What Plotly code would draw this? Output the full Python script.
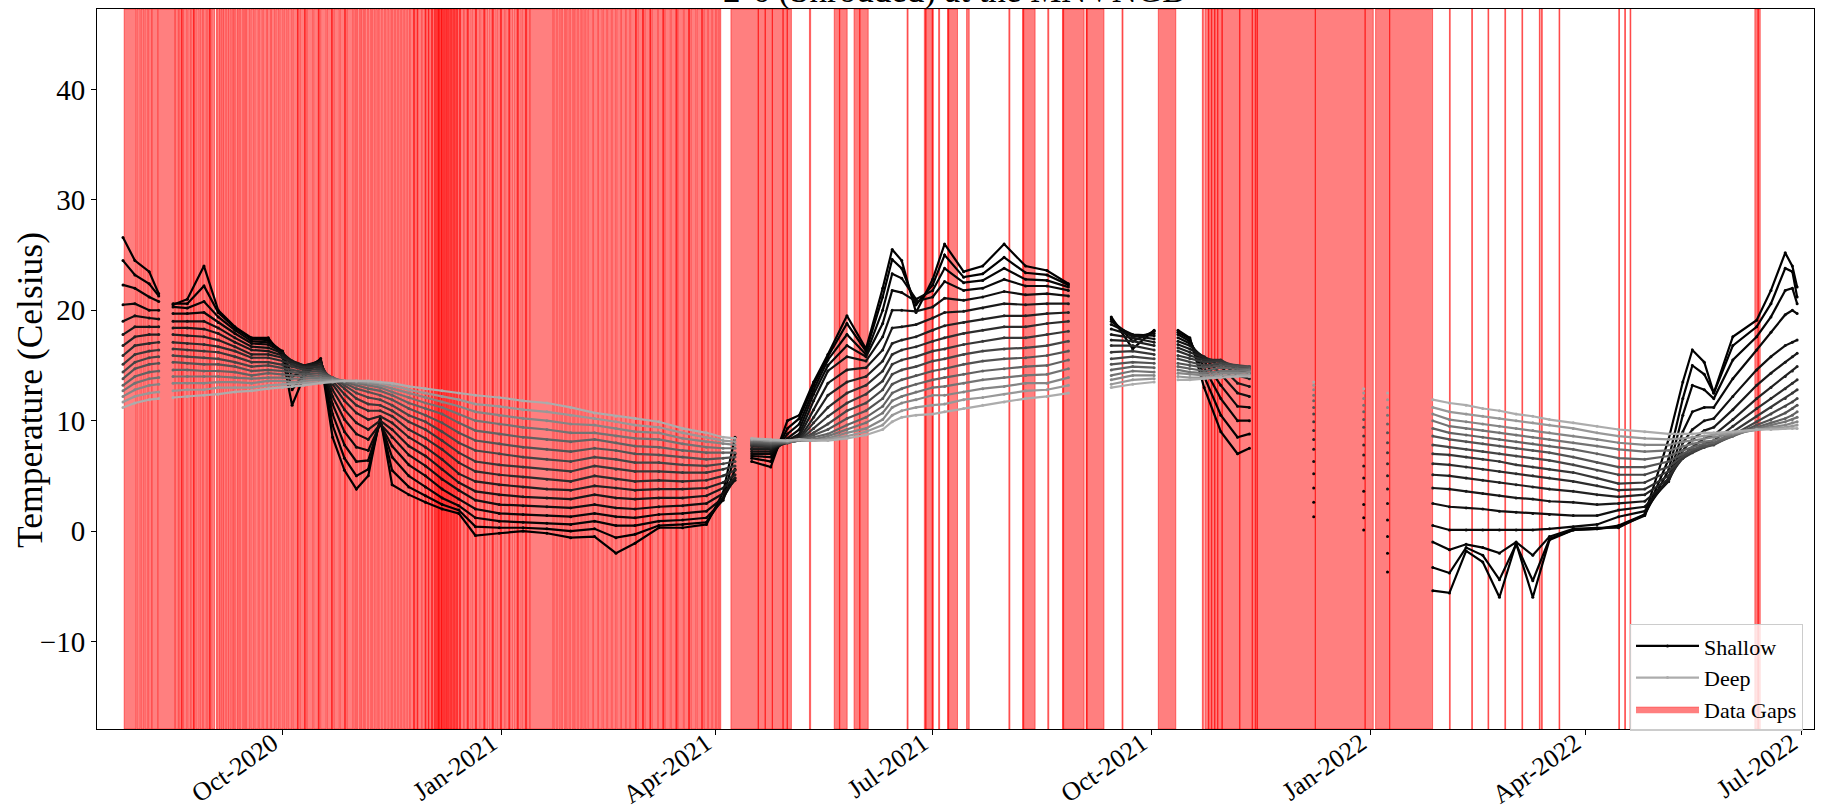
import plotly.graph_objects as go

# ---------------------------------------------------------------------------
# Thermistor-string soil temperatures (deg C), one list per sensor depth,
# sampled on the shared dates below (shallowest = depth_01, deepest = depth_16)
# ---------------------------------------------------------------------------
sample_dates = [
    "2020-07-26", "2020-07-31", "2020-08-06", "2020-08-10", "2020-08-16", "2020-08-22",
    "2020-08-29", "2020-09-04", "2020-09-11", "2020-09-18", "2020-09-25", "2020-10-01",
    "2020-10-05", "2020-10-10", "2020-10-17", "2020-10-22", "2020-10-27", "2020-11-01",
    "2020-11-06", "2020-11-11", "2020-11-16", "2020-11-23", "2020-11-30", "2020-12-07",
    "2020-12-14", "2020-12-21", "2020-12-31",
    "2021-01-10", "2021-01-20", "2021-01-30", "2021-02-09", "2021-02-18", "2021-02-26",
    "2021-03-08", "2021-03-18", "2021-03-28", "2021-04-04", "2021-04-09", "2021-04-16",
    "2021-04-24", "2021-05-01", "2021-05-06", "2021-05-12", "2021-05-18", "2021-05-26",
    "2021-06-03", "2021-06-10", "2021-06-14", "2021-06-18", "2021-06-24", "2021-07-01",
    "2021-07-06", "2021-07-14", "2021-07-22", "2021-07-31", "2021-08-09", "2021-08-18",
    "2021-08-27", "2021-09-14", "2021-09-23", "2021-10-02", "2021-10-12", "2021-10-17",
    "2021-10-23", "2021-10-30", "2021-11-06", "2021-11-11", "2021-12-08", "2021-12-29",
    "2022-01-08", "2022-01-27", "2022-02-03", "2022-02-10", "2022-02-17", "2022-02-24",
    "2022-03-03", "2022-03-10", "2022-03-17", "2022-03-27", "2022-04-06", "2022-04-15",
    "2022-04-26", "2022-05-06", "2022-05-12", "2022-05-16", "2022-05-21", "2022-05-25",
    "2022-06-02", "2022-06-12", "2022-06-18", "2022-06-24", "2022-06-27", "2022-06-29",
]

# samples that start a new recording segment (line is broken before them)
segment_starts = [
    "2020-08-16", "2021-04-16", "2021-09-14", "2021-10-12",
    "2021-12-08", "2021-12-29", "2022-01-08", "2022-01-27",
]

depth_01 = [26.6, 24.5, 23.5, 21.5, 20.5, 21.0, 24.0, 20.0, 18.5, 17.5,
            17.5, 15.8, 11.4, 14.0, 15.5, 8.5, 5.5, 3.8, 5.0, 10.3,
            4.2, 3.3, 2.6, 2.0, 1.6, -0.4, -0.2, 0.0, -0.2, -0.6,
            -0.5, -2.0, -1.1, 0.3, 0.3, 0.6, 3.5, 8.5, 6.3, 5.8,
            10.0, 10.5, 13.5, 16.0, 19.5, 16.5, 22.0, 25.5, 24.5, 19.8,
            22.8, 26.0, 23.5, 24.0, 26.0, 24.0, 23.6, 22.4, 19.4, 16.5,
            18.2, 18.2, 17.5, 13.0, 9.0, 7.0, 7.5, 1.3, 0.1, -3.7,
            -5.4, -5.6, -1.8, -2.8, -6.0, -1.1, -6.0, -0.8, 0.1, 0.2,
            0.5, 1.5, 8.3, 13.5, 16.4, 15.3, 12.5, 17.6, 19.1, 21.8,
            25.2, 24.0, 22.1]
depth_02 = [24.5, 23.2, 22.4, 21.3, 20.6, 20.6, 22.2, 19.8, 18.4, 17.4,
            17.3, 16.2, 12.8, 14.2, 15.6, 9.6, 6.6, 5.0, 5.6, 10.1,
            5.5, 4.0, 3.2, 2.4, 1.9, 0.4, 0.3, 0.3, 0.2, 0.0,
            0.2, -0.6, -0.3, 0.5, 0.6, 0.8, 3.0, 7.0, 6.6, 6.3,
            9.3, 10.2, 13.2, 15.8, 18.8, 16.3, 21.2, 24.6, 23.8, 20.5,
            22.3, 25.0, 23.0, 23.3, 24.8, 23.4, 23.2, 22.3, 19.2, 17.2,
            18.1, 18.0, 17.4, 14.0, 10.5, 8.5, 8.8, 2.6, 1.2, -2.0,
            -3.3, -3.8, -1.5, -2.2, -4.4, -1.2, -4.5, -0.7, 0.1, 0.2,
            0.4, 1.4, 6.5, 12.0, 15.0, 14.2, 12.5, 16.8, 18.5, 20.6,
            23.8, 23.5, 21.2]
depth_03 = [22.3, 22.0, 21.2, 20.8, 20.3, 20.2, 20.8, 19.4, 18.2, 17.2,
            17.1, 16.3, 14.0, 14.5, 15.6, 10.6, 7.8, 6.3, 6.4, 9.9,
            6.7, 5.0, 4.0, 3.0, 2.3, 1.2, 0.9, 0.8, 0.7, 0.6,
            0.9, 0.5, 0.5, 0.9, 1.0, 1.2, 2.8, 5.6, 6.8, 6.7,
            8.8, 9.7, 12.8, 15.5, 17.8, 16.0, 20.0, 23.3, 22.9, 21.0,
            21.8, 23.8, 22.5, 22.7, 23.8, 22.8, 22.7, 22.1, 19.0, 17.6,
            17.9, 17.8, 17.2, 14.8, 12.0, 10.0, 10.0, 3.9, 2.4, -0.5,
            -1.0, -1.7, -1.2, -1.5, -2.0, -1.0, -2.2, -0.5, 0.2, 0.3,
            0.3, 1.5, 5.5, 10.5, 13.2, 12.8, 12.0, 15.5, 17.6, 19.4,
            21.8, 22.0, 20.6]
depth_04 = [20.5, 20.6, 20.0, 20.0, 19.7, 19.7, 19.8, 18.9, 17.9, 17.0,
            16.9, 16.2, 15.0, 14.8, 15.5, 11.5, 9.0, 7.6, 7.3, 9.7,
            7.7, 6.0, 5.0, 3.8, 2.9, 2.0, 1.6, 1.5, 1.4, 1.3,
            1.6, 1.3, 1.2, 1.5, 1.6, 1.8, 3.0, 4.8, 7.0, 7.0,
            8.4, 9.2, 12.4, 15.0, 16.8, 15.8, 18.8, 21.8, 21.6, 20.8,
            21.2, 22.6, 21.8, 22.0, 22.8, 22.2, 22.2, 21.8, 18.7, 17.8,
            17.7, 17.5, 17.0, 15.4, 13.2, 11.3, 11.2, 5.2, 3.6, 1.0,
            0.5, 0.1, 0.1, 0.1, 0.1, 0.1, 0.1, 0.2, 0.4, 0.6,
            1.3, 1.8, 4.8, 9.0, 10.8, 11.2, 11.2, 13.8, 16.4, 18.0,
            19.6, 20.0, 19.7]
depth_05 = [19.0, 19.5, 19.3, 19.2, 19.0, 19.0, 19.0, 18.4, 17.5, 16.7,
            16.6, 16.1, 15.4, 15.0, 15.4, 12.2, 10.1, 8.8, 8.3, 9.7,
            8.5, 6.9, 5.9, 4.7, 3.7, 2.8, 2.4, 2.3, 2.2, 2.1,
            2.4, 2.1, 2.0, 2.2, 2.3, 2.5, 3.4, 4.6, 7.2, 7.2,
            8.2, 8.8, 11.8, 14.5, 15.8, 15.4, 17.6, 20.0, 20.0, 19.9,
            20.3, 21.1, 20.9, 21.2, 21.7, 21.4, 21.5, 21.3, 18.3, 17.7,
            17.4, 17.2, 16.8, 15.7, 14.2, 12.5, 12.2, 6.3, 4.8, 2.5,
            2.5, 2.2, 2.1, 2.0, 1.8, 1.7, 1.6, 1.5, 1.4, 1.4,
            1.9, 2.2, 4.5, 8.0, 9.2, 10.0, 10.2, 12.2, 14.6, 15.8,
            16.8, 17.1, 17.3]
depth_06 = [17.8, 18.5, 18.5, 18.5, 18.4, 18.4, 18.3, 17.9, 17.1, 16.4,
            16.3, 15.9, 15.4, 15.0, 15.3, 12.8, 11.0, 9.8, 9.2, 10.0,
            9.2, 7.7, 6.8, 5.6, 4.4, 3.6, 3.3, 3.1, 3.0, 2.9,
            3.3, 3.0, 2.9, 3.0, 3.0, 3.2, 3.9, 4.8, 7.4, 7.4,
            8.1, 8.6, 11.0, 13.4, 14.6, 14.8, 16.4, 18.4, 18.5, 18.7,
            19.3, 19.8, 19.9, 20.2, 20.6, 20.5, 20.6, 20.6, 17.8, 17.5,
            17.1, 16.9, 16.5, 15.8, 14.9, 13.4, 13.1, 7.4, 5.9, 3.8,
            3.9, 3.8, 3.6, 3.4, 3.2, 3.0, 2.9, 2.7, 2.6, 2.4,
            2.5, 2.7, 4.5, 7.3, 8.3, 9.1, 9.4, 11.0, 13.2, 14.3,
            15.3, 15.8, 16.1]
depth_07 = [16.8, 17.6, 17.8, 17.8, 17.8, 17.7, 17.6, 17.3, 16.7, 16.0,
            16.0, 15.7, 15.3, 14.9, 15.1, 13.3, 11.8, 10.7, 10.1, 10.4,
            9.8, 8.5, 7.6, 6.5, 5.2, 4.5, 4.2, 4.0, 3.8, 3.7,
            4.1, 3.9, 3.7, 3.8, 3.8, 3.9, 4.4, 5.1, 7.5, 7.5,
            8.0, 8.4, 10.3, 12.3, 13.5, 14.0, 15.4, 17.0, 17.3, 17.6,
            18.2, 18.6, 18.9, 19.2, 19.5, 19.5, 19.7, 19.8, 17.3, 17.2,
            16.8, 16.6, 16.2, 15.7, 15.3, 14.1, 13.8, 8.3, 6.9, 5.0,
            5.1, 5.0, 4.8, 4.6, 4.4, 4.2, 4.0, 3.8, 3.6, 3.3,
            3.1, 3.3, 4.7, 6.8, 7.6, 8.4, 8.7, 10.1, 12.0, 13.0,
            14.0, 14.5, 14.9]
depth_08 = [15.9, 16.8, 17.0, 17.1, 17.1, 17.0, 16.9, 16.7, 16.3, 15.7,
            15.7, 15.4, 15.1, 14.8, 14.9, 13.6, 12.4, 11.4, 10.9, 10.9,
            10.4, 9.2, 8.4, 7.4, 6.2, 5.4, 5.1, 4.9, 4.7, 4.5,
            5.0, 4.7, 4.5, 4.6, 4.5, 4.6, 5.0, 5.5, 7.7, 7.6,
            8.0, 8.3, 9.8, 11.2, 12.5, 13.2, 14.5, 16.0, 16.4, 16.7,
            17.2, 17.5, 17.9, 18.2, 18.5, 18.5, 18.8, 19.0, 16.8, 16.8,
            16.4, 16.3, 15.9, 15.5, 15.5, 14.6, 14.3, 9.1, 7.8, 6.1,
            6.1, 6.0, 5.8, 5.6, 5.4, 5.2, 5.0, 4.8, 4.5, 4.1,
            3.7, 3.8, 5.0, 6.6, 7.2, 7.9, 8.2, 9.5, 11.1, 12.0,
            12.9, 13.4, 13.7]
depth_09 = [15.1, 16.0, 16.3, 16.4, 16.5, 16.4, 16.3, 16.2, 15.8, 15.3,
            15.3, 15.1, 14.9, 14.6, 14.7, 13.8, 12.9, 12.0, 11.5, 11.4,
            10.9, 9.9, 9.2, 8.2, 7.1, 6.3, 6.0, 5.8, 5.6, 5.4,
            5.9, 5.6, 5.4, 5.4, 5.3, 5.3, 5.6, 5.9, 7.8, 7.7,
            8.0, 8.2, 9.3, 10.4, 11.6, 12.4, 13.6, 15.1, 15.5, 15.8,
            16.3, 16.5, 16.9, 17.2, 17.5, 17.5, 17.8, 18.1, 16.2, 16.3,
            16.0, 15.9, 15.6, 15.3, 15.4, 14.9, 14.7, 9.9, 8.6, 7.1,
            7.0, 6.9, 6.7, 6.5, 6.3, 6.0, 5.8, 5.6, 5.3, 4.8,
            4.3, 4.4, 5.4, 6.6, 7.1, 7.6, 7.9, 9.0, 10.4, 11.2,
            12.0, 12.5, 12.8]
depth_10 = [14.4, 15.3, 15.7, 15.8, 15.9, 15.8, 15.7, 15.6, 15.3, 14.9,
            15.0, 14.8, 14.6, 14.4, 14.5, 13.9, 13.2, 12.5, 12.1, 11.9,
            11.4, 10.5, 9.9, 9.0, 8.0, 7.3, 7.0, 6.7, 6.5, 6.3,
            6.7, 6.5, 6.2, 6.2, 6.0, 5.9, 6.1, 6.3, 7.9, 7.8,
            8.0, 8.2, 8.9, 9.7, 10.9, 11.6, 12.8, 14.2, 14.6, 14.9,
            15.4, 15.6, 16.0, 16.3, 16.5, 16.6, 16.8, 17.2, 15.6, 15.8,
            15.6, 15.6, 15.3, 15.0, 15.2, 15.0, 14.9, 10.6, 9.4, 8.0,
            7.8, 7.6, 7.4, 7.2, 7.0, 6.8, 6.6, 6.4, 6.0, 5.5,
            5.1, 5.1, 5.8, 6.8, 7.2, 7.6, 7.8, 8.7, 9.9, 10.6,
            11.3, 11.7, 12.0]
depth_11 = [13.8, 14.7, 15.1, 15.2, 15.3, 15.2, 15.1, 15.1, 14.9, 14.5,
            14.6, 14.5, 14.4, 14.2, 14.3, 13.9, 13.4, 12.9, 12.6, 12.3,
            11.9, 11.1, 10.5, 9.8, 8.9, 8.2, 7.9, 7.6, 7.4, 7.2,
            7.5, 7.3, 7.0, 6.9, 6.7, 6.5, 6.6, 6.7, 8.0, 7.9,
            8.0, 8.2, 8.7, 9.2, 10.2, 10.9, 12.0, 13.3, 13.7, 14.1,
            14.5, 14.7, 15.1, 15.4, 15.6, 15.7, 15.9, 16.3, 15.1, 15.3,
            15.2, 15.2, 15.0, 14.8, 15.0, 14.9, 14.9, 11.2, 10.1, 8.9,
            8.6, 8.3, 8.1, 7.9, 7.7, 7.5, 7.3, 7.1, 6.7, 6.2,
            5.8, 5.8, 6.3, 7.0, 7.4, 7.7, 7.9, 8.6, 9.6, 10.1,
            10.7, 11.1, 11.4]
depth_12 = [13.2, 14.0, 14.4, 14.5, 14.6, 14.6, 14.5, 14.5, 14.4, 14.1,
            14.3, 14.2, 14.1, 14.0, 14.1, 13.9, 13.5, 13.2, 12.9, 12.7,
            12.3, 11.6, 11.1, 10.6, 9.8, 9.1, 8.8, 8.5, 8.3, 8.1,
            8.3, 8.0, 7.7, 7.6, 7.3, 7.1, 7.1, 7.1, 8.1, 8.0,
            8.0, 8.2, 8.5, 8.8, 9.6, 10.3, 11.3, 12.5, 12.9, 13.3,
            13.7, 13.9, 14.2, 14.5, 14.7, 14.9, 15.0, 15.5, 14.6, 14.9,
            14.8, 14.9, 14.7, 14.5, 14.8, 14.7, 14.7, 11.8, 10.8, 9.7,
            9.3, 8.9, 8.7, 8.5, 8.3, 8.1, 7.9, 7.7, 7.4, 7.0,
            6.6, 6.5, 6.8, 7.3, 7.6, 7.9, 8.0, 8.6, 9.4, 9.8,
            10.2, 10.5, 10.8]
depth_13 = [12.7, 13.4, 13.8, 13.9, 14.0, 14.0, 14.0, 14.0, 13.9, 13.8,
            13.9, 13.9, 13.8, 13.8, 13.9, 13.8, 13.6, 13.4, 13.2, 13.0,
            12.6, 12.1, 11.6, 11.2, 10.6, 10.0, 9.7, 9.4, 9.2, 8.9,
            8.9, 8.6, 8.4, 8.3, 7.9, 7.6, 7.5, 7.5, 8.2, 8.1,
            8.1, 8.2, 8.3, 8.6, 9.2, 9.8, 10.7, 11.8, 12.2, 12.6,
            13.0, 13.1, 13.4, 13.7, 13.9, 14.1, 14.2, 14.7, 14.1, 14.5,
            14.4, 14.6, 14.4, 14.3, 14.5, 14.5, 14.6, 12.3, 11.4, 10.5,
            10.0, 9.5, 9.3, 9.1, 8.9, 8.7, 8.5, 8.3, 8.0, 7.7,
            7.4, 7.2, 7.3, 7.7, 7.9, 8.1, 8.2, 8.7, 9.3, 9.6,
            9.9, 10.1, 10.3]
depth_14 = [12.2, 12.8, 13.2, 13.3, 13.4, 13.4, 13.4, 13.5, 13.5, 13.4,
            13.6, 13.6, 13.5, 13.6, 13.7, 13.7, 13.6, 13.5, 13.4, 13.2,
            12.9, 12.5, 12.1, 11.7, 11.3, 10.8, 10.5, 10.2, 10.0, 9.7,
            9.6, 9.3, 9.0, 8.9, 8.4, 8.1, 7.9, 7.8, 8.3, 8.2,
            8.1, 8.2, 8.2, 8.4, 8.9, 9.3, 10.1, 11.2, 11.6, 11.9,
            12.3, 12.3, 12.6, 12.9, 13.1, 13.4, 13.4, 13.9, 13.7, 14.1,
            14.1, 14.3, 14.2, 14.1, 14.3, 14.3, 14.4, 12.8, 12.0, 11.2,
            10.6, 10.1, 9.9, 9.7, 9.5, 9.3, 9.1, 8.9, 8.6, 8.3,
            8.0, 7.8, 7.8, 8.1, 8.2, 8.4, 8.5, 8.8, 9.2, 9.4,
            9.6, 9.8, 9.9]
depth_15 = [11.7, 12.2, 12.5, 12.6, 12.7, 12.8, 12.8, 13.0, 13.0, 13.0,
            13.2, 13.3, 13.3, 13.4, 13.5, 13.6, 13.6, 13.6, 13.5, 13.4,
            13.2, 12.8, 12.5, 12.2, 11.9, 11.5, 11.3, 11.0, 10.8, 10.5,
            10.2, 9.9, 9.6, 9.4, 8.9, 8.5, 8.2, 8.1, 8.3, 8.2,
            8.2, 8.3, 8.2, 8.3, 8.6, 9.0, 9.6, 10.5, 10.9, 11.2,
            11.4, 11.5, 11.9, 12.1, 12.4, 12.7, 12.8, 13.2, 13.3, 13.7,
            13.8, 14.0, 13.9, 13.9, 14.1, 14.1, 14.2, 13.2, 12.5, 11.9,
            11.2, 10.8, 10.6, 10.4, 10.2, 10.0, 9.8, 9.6, 9.3, 8.9,
            8.6, 8.4, 8.3, 8.4, 8.5, 8.6, 8.7, 8.9, 9.2, 9.3,
            9.4, 9.5, 9.6]
depth_16 = [11.2, 11.6, 11.9, 12.0, 12.1, 12.2, 12.3, 12.4, 12.6, 12.7,
            12.9, 13.0, 13.1, 13.2, 13.4, 13.5, 13.6, 13.6, 13.6, 13.5,
            13.4, 13.1, 12.9, 12.7, 12.5, 12.3, 12.1, 11.8, 11.6, 11.2,
            10.7, 10.4, 10.2, 9.9, 9.3, 8.9, 8.5, 8.4, 8.4, 8.3,
            8.2, 8.3, 8.2, 8.2, 8.4, 8.7, 9.2, 9.9, 10.3, 10.5,
            10.6, 10.8, 11.1, 11.4, 11.7, 12.0, 12.2, 12.5, 13.0, 13.3,
            13.5, 13.7, 13.7, 13.8, 13.9, 14.0, 14.0, 13.5, 12.9, 12.5,
            11.9, 11.6, 11.4, 11.1, 10.9, 10.6, 10.4, 10.1, 9.8, 9.5,
            9.2, 9.0, 8.8, 8.8, 8.8, 8.9, 8.9, 9.0, 9.2, 9.2,
            9.3, 9.3, 9.3]

# Logger outages (start, end)
data_gaps = [
    ("2020-07-26 12:00", "2020-07-31 12:00"), ("2020-07-31 20:00", "2020-08-02 06:00"),
    ("2020-08-02 14:00", "2020-08-03 20:00"), ("2020-08-04 04:00", "2020-08-05 10:00"),
    ("2020-08-05 18:00", "2020-08-07 00:00"), ("2020-08-07 06:00", "2020-08-09 12:00"),
    ("2020-08-09 20:00", "2020-08-16 18:00"),
    ("2020-08-17 00:00", "2020-08-18 06:00"), ("2020-08-18 12:00", "2020-08-19 18:00"),
    ("2020-08-19 12:00", "2020-08-20 02:00"), ("2020-08-20 10:00", "2020-08-21 20:00"),
    ("2020-08-22 04:00", "2020-08-23 08:00"), ("2020-08-23 16:00", "2020-08-24 20:00"),
    ("2020-08-24 14:00", "2020-08-25 06:00"), ("2020-08-25 14:00", "2020-08-27 00:00"),
    ("2020-08-27 08:00", "2020-08-28 10:00"), ("2020-08-28 18:00", "2020-08-30 00:00"),
    ("2020-08-30 08:00", "2020-08-31 14:00"), ("2020-08-31 06:00", "2020-08-31 22:00"),
    ("2020-09-01 06:00", "2020-09-02 12:00"),
    ("2020-09-03 06:00", "2020-09-03 20:00"), ("2020-09-04 06:00", "2020-09-04 18:00"),
    ("2020-09-05 02:00", "2020-09-05 16:00"), ("2020-09-06 00:00", "2020-09-06 12:00"),
    ("2020-09-06 22:00", "2020-09-07 14:00"), ("2020-09-08 00:00", "2020-09-08 10:00"),
    ("2020-09-08 20:00", "2020-09-09 12:00"), ("2020-09-09 22:00", "2020-09-10 10:00"),
    ("2020-09-10 18:00", "2020-09-11 12:00"), ("2020-09-11 22:00", "2020-09-12 10:00"),
    ("2020-09-12 18:00", "2020-09-13 12:00"), ("2020-09-13 22:00", "2020-09-14 14:00"),
    ("2020-09-15 00:00", "2020-09-15 12:00"),
    ("2020-09-15 20:00", "2020-09-17 08:00"), ("2020-09-17 16:00", "2020-09-19 00:00"),
    ("2020-09-19 08:00", "2020-09-20 20:00"), ("2020-09-21 04:00", "2020-09-22 12:00"),
    ("2020-09-22 20:00", "2020-09-24 08:00"), ("2020-09-24 16:00", "2020-09-26 00:00"),
    ("2020-09-26 08:00", "2020-09-27 20:00"), ("2020-09-28 04:00", "2020-09-29 12:00"),
    ("2020-09-29 20:00", "2020-10-01 06:00"), ("2020-10-01 14:00", "2020-10-02 22:00"),
    ("2020-10-03 06:00", "2020-10-05 00:00"),
    ("2020-10-05 08:00", "2020-10-07 12:00"), ("2020-10-07 06:00", "2020-10-08 00:00"),
    ("2020-10-08 08:00", "2020-10-10 12:00"), ("2020-10-10 06:00", "2020-10-11 00:00"),
    ("2020-10-11 08:00", "2020-10-13 18:00"), ("2020-10-14 02:00", "2020-10-16 06:00"),
    ("2020-10-16 00:00", "2020-10-16 16:00"), ("2020-10-17 00:00", "2020-10-19 08:00"),
    ("2020-10-19 16:00", "2020-10-21 20:00"), ("2020-10-21 14:00", "2020-10-22 06:00"),
    ("2020-10-22 14:00", "2020-10-24 20:00"), ("2020-10-25 04:00", "2020-10-27 08:00"),
    ("2020-10-27 02:00", "2020-10-27 18:00"), ("2020-10-28 02:00", "2020-10-30 10:00"),
    ("2020-10-30 20:00", "2020-10-31 14:00"), ("2020-10-31 22:00", "2020-11-01 16:00"),
    ("2020-11-02 02:00", "2020-11-02 20:00"), ("2020-11-03 04:00", "2020-11-04 00:00"),
    ("2020-11-04 10:00", "2020-11-05 02:00"), ("2020-11-05 12:00", "2020-11-06 06:00"),
    ("2020-11-06 16:00", "2020-11-07 08:00"), ("2020-11-07 18:00", "2020-11-08 16:00"),
    ("2020-11-09 02:00", "2020-11-09 20:00"), ("2020-11-10 06:00", "2020-11-11 00:00"),
    ("2020-11-11 10:00", "2020-11-12 06:00"), ("2020-11-12 16:00", "2020-11-13 08:00"),
    ("2020-11-13 18:00", "2020-11-14 14:00"), ("2020-11-15 00:00", "2020-11-15 18:00"),
    ("2020-11-16 04:00", "2020-11-17 00:00"), ("2020-11-17 10:00", "2020-11-18 06:00"),
    ("2020-11-18 16:00", "2020-11-19 12:00"), ("2020-11-19 22:00", "2020-11-20 18:00"),
    ("2020-11-21 04:00", "2020-11-22 00:00"), ("2020-11-22 10:00", "2020-11-23 08:00"),
    ("2020-11-23 16:00", "2020-11-25 12:00"), ("2020-11-25 00:00", "2020-11-26 20:00"),
    ("2020-11-26 12:00", "2020-11-28 08:00"), ("2020-11-28 16:00", "2020-11-30 06:00"),
    ("2020-11-29 20:00", "2020-12-01 12:00"), ("2020-12-01 04:00", "2020-12-03 00:00"),
    ("2020-12-02 12:00", "2020-12-04 12:00"), ("2020-12-03 18:00", "2020-12-05 18:00"),
    ("2020-12-04 20:00", "2020-12-06 20:00"), ("2020-12-05 12:00", "2020-12-07 12:00"),
    ("2020-12-06 18:00", "2020-12-08 18:00"), ("2020-12-07 20:00", "2020-12-09 20:00"),
    ("2020-12-09 00:00", "2020-12-11 00:00"), ("2020-12-10 06:00", "2020-12-12 06:00"),
    ("2020-12-11 12:00", "2020-12-13 12:00"), ("2020-12-12 18:00", "2020-12-14 18:00"),
    ("2020-12-14 06:00", "2020-12-16 00:00"), ("2020-12-16 08:00", "2020-12-18 00:00"),
    ("2020-12-17 12:00", "2020-12-19 06:00"), ("2020-12-19 16:00", "2020-12-21 10:00"),
    ("2020-12-21 00:00", "2020-12-22 18:00"), ("2020-12-23 04:00", "2020-12-25 00:00"),
    ("2020-12-24 12:00", "2020-12-26 06:00"), ("2020-12-26 16:00", "2020-12-28 12:00"),
    ("2020-12-28 00:00", "2020-12-29 18:00"), ("2020-12-30 04:00", "2020-12-31 22:00"),
    ("2020-12-31 12:00", "2021-01-02 06:00"), ("2021-01-02 16:00", "2021-01-04 10:00"),
    ("2021-01-04 00:00", "2021-01-05 18:00"), ("2021-01-06 04:00", "2021-01-08 00:00"),
    ("2021-01-07 12:00", "2021-01-09 06:00"), ("2021-01-09 16:00", "2021-01-11 12:00"),
    ("2021-01-11 00:00", "2021-01-12 18:00"),
    ("2021-01-13 00:00", "2021-01-22 12:00"),
    ("2021-01-22 20:00", "2021-01-23 12:00"), ("2021-01-23 22:00", "2021-01-24 14:00"),
    ("2021-01-25 00:00", "2021-01-25 16:00"), ("2021-01-26 02:00", "2021-01-26 18:00"),
    ("2021-01-27 04:00", "2021-01-27 20:00"), ("2021-01-28 06:00", "2021-01-29 00:00"),
    ("2021-01-29 10:00", "2021-01-30 02:00"), ("2021-01-30 12:00", "2021-01-31 04:00"),
    ("2021-01-31 14:00", "2021-02-01 08:00"), ("2021-02-01 18:00", "2021-02-02 10:00"),
    ("2021-02-02 20:00", "2021-02-03 14:00"), ("2021-02-04 00:00", "2021-02-04 18:00"),
    ("2021-02-05 04:00", "2021-02-06 00:00"),
    ("2021-02-06 10:00", "2021-02-08 06:00"), ("2021-02-08 14:00", "2021-02-10 08:00"),
    ("2021-02-10 16:00", "2021-02-12 06:00"), ("2021-02-12 14:00", "2021-02-14 04:00"),
    ("2021-02-14 12:00", "2021-02-16 02:00"), ("2021-02-16 10:00", "2021-02-18 00:00"),
    ("2021-02-18 08:00", "2021-02-20 00:00"), ("2021-02-20 08:00", "2021-02-22 00:00"),
    ("2021-02-22 08:00", "2021-02-23 20:00"),
    ("2021-02-24 04:00", "2021-02-26 12:00"), ("2021-02-26 06:00", "2021-02-26 22:00"),
    ("2021-02-27 06:00", "2021-03-01 12:00"), ("2021-03-01 04:00", "2021-03-01 20:00"),
    ("2021-03-02 04:00", "2021-03-04 12:00"), ("2021-03-04 06:00", "2021-03-04 20:00"),
    ("2021-03-05 04:00", "2021-03-07 12:00"), ("2021-03-07 20:00", "2021-03-10 00:00"),
    ("2021-03-09 16:00", "2021-03-10 08:00"), ("2021-03-10 16:00", "2021-03-12 20:00"),
    ("2021-03-13 04:00", "2021-03-15 12:00"), ("2021-03-15 04:00", "2021-03-15 20:00"),
    ("2021-03-16 04:00", "2021-03-18 08:00"), ("2021-03-18 16:00", "2021-03-20 20:00"),
    ("2021-03-20 12:00", "2021-03-21 04:00"), ("2021-03-21 12:00", "2021-03-23 16:00"),
    ("2021-03-24 00:00", "2021-03-26 06:00"), ("2021-03-26 00:00", "2021-03-26 16:00"),
    ("2021-03-27 00:00", "2021-03-28 12:00"), ("2021-03-28 20:00", "2021-03-30 06:00"),
    ("2021-03-30 14:00", "2021-03-31 20:00"), ("2021-04-01 04:00", "2021-04-02 00:00"),
    ("2021-04-02 08:00", "2021-04-03 00:00"),
    ("2021-04-07 07:00", "2021-04-18 20:00"), ("2021-04-18 16:00", "2021-04-21 18:00"),
    ("2021-04-21 14:00", "2021-04-24 18:00"), ("2021-04-24 14:00", "2021-04-29 06:00"),
    ("2021-04-29 02:00", "2021-05-01 00:00"), ("2021-04-30 20:00", "2021-05-02 16:00"),
    ("2021-05-10 06:00", "2021-05-10 18:00"),
    ("2021-05-20 16:00", "2021-05-23 00:00"), ("2021-05-22 20:00", "2021-05-26 02:00"),
    ("2021-05-29 00:00", "2021-05-31 12:00"), ("2021-05-31 08:00", "2021-06-03 22:00"),
    ("2021-06-20 06:00", "2021-06-20 16:00"),
    ("2021-06-27 12:00", "2021-06-28 06:00"), ("2021-06-28 00:00", "2021-07-01 00:00"),
    ("2021-06-30 18:00", "2021-07-01 06:00"),
    ("2021-07-03 12:00", "2021-07-03 22:00"),
    ("2021-07-07 06:00", "2021-07-07 18:00"), ("2021-07-07 12:00", "2021-07-11 10:00"),
    ("2021-07-15 06:00", "2021-07-16 08:00"),
    ("2021-08-02 00:00", "2021-08-02 10:00"),
    ("2021-08-07 18:00", "2021-08-08 06:00"), ("2021-08-08 00:00", "2021-08-13 00:00"),
    ("2021-08-18 08:00", "2021-08-18 18:00"),
    ("2021-08-24 12:00", "2021-08-25 00:00"), ("2021-08-24 18:00", "2021-09-02 14:00"),
    ("2021-09-03 10:00", "2021-09-03 22:00"), ("2021-09-03 14:00", "2021-09-10 22:00"),
    ("2021-09-18 12:00", "2021-09-18 22:00"),
    ("2021-10-03 18:00", "2021-10-11 02:00"),
    ("2021-10-22 06:00", "2021-10-22 16:00"),
    ("2021-10-23 08:00", "2021-10-25 00:00"), ("2021-10-24 18:00", "2021-10-26 06:00"),
    ("2021-10-26 00:00", "2021-10-27 14:00"), ("2021-10-27 08:00", "2021-10-28 20:00"),
    ("2021-10-28 14:00", "2021-10-30 16:00"), ("2021-10-30 10:00", "2021-11-07 02:00"),
    ("2021-11-06 20:00", "2021-11-12 08:00"), ("2021-11-12 02:00", "2021-11-13 16:00"),
    ("2021-11-13 10:00", "2021-11-14 10:00"), ("2021-11-14 04:00", "2021-12-08 18:00"),
    ("2021-12-08 14:00", "2021-12-29 16:00"), ("2021-12-29 12:00", "2022-01-02 00:00"),
    ("2022-01-03 00:00", "2022-01-09 00:00"), ("2022-01-08 20:00", "2022-01-26 22:00"),
    ("2022-02-03 00:00", "2022-02-03 08:00"), ("2022-02-12 08:00", "2022-02-12 16:00"),
    ("2022-02-19 04:00", "2022-02-19 12:00"), ("2022-02-26 06:00", "2022-02-26 14:00"),
    ("2022-03-05 10:00", "2022-03-05 18:00"), ("2022-03-12 18:00", "2022-03-13 02:00"),
    ("2022-03-13 16:00", "2022-03-14 00:00"), ("2022-03-21 00:00", "2022-03-21 08:00"),
    ("2022-04-15 02:00", "2022-04-15 10:00"), ("2022-04-17 14:00", "2022-04-17 22:00"),
    ("2022-04-19 20:00", "2022-04-20 04:00"),
    ("2022-06-11 06:00", "2022-06-12 18:00"), ("2022-06-12 12:00", "2022-06-13 12:00"),
]

tick_dates = ["2020-10-01", "2021-01-01", "2021-04-01", "2021-07-01",
              "2021-10-01", "2022-01-01", "2022-04-01", "2022-07-01"]
tick_text = ["Oct-2020", "Jan-2021", "Apr-2021", "Jul-2021",
             "Oct-2021", "Jan-2022", "Apr-2022", "Jul-2022"]
y_ticks = [-10, 0, 10, 20, 30, 40]

depth_series = [depth_01, depth_02, depth_03, depth_04, depth_05, depth_06,
                depth_07, depth_08, depth_09, depth_10, depth_11, depth_12,
                depth_13, depth_14, depth_15, depth_16]

SERIF = "Liberation Serif, Times New Roman, serif"
GAP_RGBA = "rgba(255,0,0,0.5)"


def with_breaks(values):
    """Insert None before each new recording segment so lines are not bridged."""
    xs, ys = [], []
    for d, v in zip(sample_dates, values):
        if d in segment_starts and xs:
            xs.append(None)
            ys.append(None)
        xs.append(d)
        ys.append(v)
    return xs, ys


fig = go.Figure()

n = len(depth_series)
for i, vals in enumerate(depth_series):
    level = int(round(172 * (i / (n - 1)) ** 1.8))
    color = f"rgb({level},{level},{level})"
    xs, ys = with_breaks(vals)
    if i == 0:
        name, show = "Shallow", True
    elif i == n - 1:
        name, show = "Deep", True
    else:
        name, show = f"sensor {i + 1}", False
    fig.add_trace(go.Scatter(
        x=xs, y=ys, mode="lines+markers", name=name, showlegend=show,
        line=dict(color=color, width=2.2),
        marker=dict(color=color, size=3),
        connectgaps=False, hoverinfo="skip",
    ))

# legend entry for the outage bands (drawn outside the visible y-range)
fig.add_trace(go.Scatter(
    x=["2021-01-01", "2021-01-01", "2021-01-05", "2021-01-05"],
    y=[-100, -99, -99, -100], mode="lines", fill="toself",
    fillcolor=GAP_RGBA, line=dict(color=GAP_RGBA, width=1),
    name="Data Gaps", hoverinfo="skip",
))

shapes = [
    dict(type="rect", xref="x", yref="paper", x0=a, x1=b, y0=0, y1=1,
         fillcolor=GAP_RGBA, line=dict(color=GAP_RGBA, width=1), layer="below")
    for a, b in data_gaps
]

fig.update_layout(
    width=1822, height=809,
    margin=dict(l=97, r=8, t=9, b=80),
    paper_bgcolor="white", plot_bgcolor="white",
    font=dict(family=SERIF, size=26, color="black"),
    shapes=shapes,
    legend=dict(
        x=0.9936, y=-0.003, xanchor="right", yanchor="bottom",
        bgcolor="rgba(255,255,255,0.8)", bordercolor="#cccccc", borderwidth=1,
        font=dict(family=SERIF, size=22, color="black"),
        tracegroupgap=0, itemwidth=63,
    ),
    annotations=[
        dict(text="2-6 (Shrouded) at the MNVNGD", xref="paper", yref="paper",
             x=0.5, y=0.996, xanchor="center", yanchor="bottom", showarrow=False,
             font=dict(family=SERIF, size=35, color="black")),
        dict(text="Temperature (Celsius)", xref="paper", yref="paper",
             x=-0.039, y=0.471, xanchor="center", yanchor="middle", textangle=-90,
             showarrow=False, font=dict(family=SERIF, size=35.5, color="black")),
    ],
)

fig.update_xaxes(
    type="date", range=["2020-07-15 02:00", "2022-07-06 02:00"],
    tickvals=tick_dates, ticktext=tick_text, tickangle=-35,
    ticks="outside", ticklen=5, tickwidth=1, tickcolor="black",
    ticklabelstandoff=-17, ticklabelshift=-10,
    showline=True, mirror=True, linecolor="black", linewidth=1,
    showgrid=False, zeroline=False, automargin=False,
    tickfont=dict(family=SERIF, size=26, color="black"),
)
fig.update_yaxes(
    range=[-17.93, 47.29], tickvals=y_ticks,
    ticks="outside", ticklen=5, tickwidth=1, tickcolor="black",
    showline=True, mirror=True, linecolor="black", linewidth=1,
    showgrid=False, zeroline=False, automargin=False,
    tickfont=dict(family=SERIF, size=29, color="black"),
)

fig.write_html("out.html")
